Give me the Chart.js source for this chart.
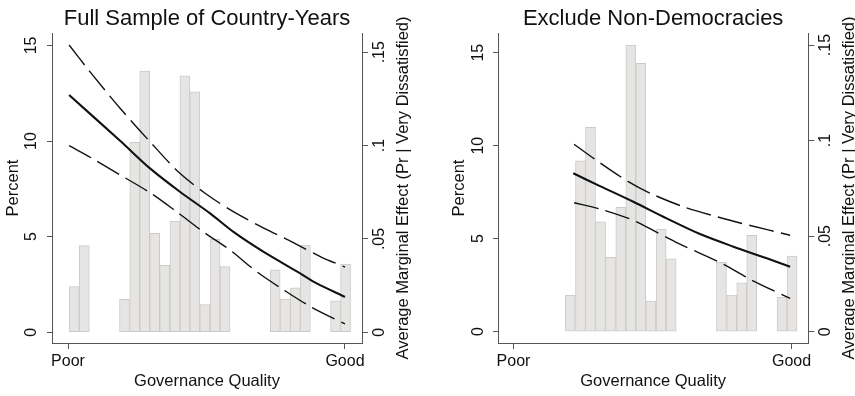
<!DOCTYPE html>
<html>
<head>
<meta charset="utf-8">
<script src="https://cdn.jsdelivr.net/npm/chart.js@4.4.0/dist/chart.umd.min.js"></script>
<style>
  body { margin: 0; background: #fff; }
  #wrap { display: flex; width: 855px; height: 396px; }
  canvas { display: block; }
</style>
</head>
<body>
<div id="wrap">
  <canvas id="fullChart" width="428" height="396"></canvas>
  <canvas id="demChart" width="427" height="396"></canvas>
</div>
<script>
// governance quality scaled 0 (Poor) .. 1 (Good); histogram bins shared by both panels
const binCenters = [0.023, 0.059, 0.095, 0.132, 0.168, 0.204, 0.241, 0.277, 0.313, 0.349,
                    0.386, 0.422, 0.458, 0.494, 0.531, 0.567, 0.603, 0.640, 0.676, 0.712,
                    0.748, 0.785, 0.821, 0.857, 0.894, 0.930, 0.966, 1.002];

// percent of country-years in each bin
const fullPercent = [2.39, 4.53, null, null, null, 1.72, 9.93, 13.66, 5.17, 3.50,
                     5.82, 13.41, 12.58, 1.45, 4.86, 3.43, null, null, null, null,
                     3.26, 1.74, 2.33, 4.56, null, null, 1.64, 3.57];
const demPercent = [null, null, null, null, null, 1.97, 9.18, 10.99, 5.90, 4.00,
                    6.68, 15.41, 14.43, 1.65, 5.52, 3.92, null, null, null, null,
                    3.73, 1.97, 2.63, 5.18, null, null, 1.85, 4.07];

// average marginal effect and 95% bounds, full sample
const fullEffectX = [0.004, 0.188, 0.296, 0.404, 0.513, 0.600, 0.705, 0.838, 0.898, 1.0];
const fullEffect  = [0.1271, 0.1026, 0.0878, 0.0753, 0.0637, 0.0535, 0.0432, 0.0316, 0.0262, 0.0190];
const fullUpperX  = [0.004, 0.079, 0.188, 0.296, 0.398, 0.495, 0.597, 0.705, 0.808, 0.916, 1.0];
const fullUpper   = [0.1539, 0.1396, 0.1200, 0.1021, 0.0860, 0.0745, 0.0646, 0.0560, 0.0485, 0.0402, 0.0350];
const fullLowerX  = [0.004, 0.087, 0.188, 0.296, 0.392, 0.488, 0.585, 0.681, 0.783, 0.880, 1.0];
const fullLower   = [0.1000, 0.0932, 0.0843, 0.0748, 0.0646, 0.0539, 0.0441, 0.0325, 0.0223, 0.0134, 0.0045];

// democracies only
const demEffectX = [0.215, 0.311, 0.431, 0.551, 0.671, 0.791, 0.911, 0.995];
const demEffect  = [0.0829, 0.0762, 0.0680, 0.0593, 0.0511, 0.0445, 0.0384, 0.0340];
const demUpperX  = [0.218, 0.293, 0.413, 0.497, 0.611, 0.731, 0.845, 0.995];
const demUpper   = [0.0981, 0.0902, 0.0785, 0.0721, 0.0654, 0.0602, 0.0558, 0.0505];
const demLowerX  = [0.218, 0.311, 0.419, 0.473, 0.593, 0.749, 0.857, 0.995];
const demLower   = [0.0675, 0.0642, 0.0590, 0.0553, 0.0462, 0.0358, 0.0270, 0.0174];

const xTickValues = [0, 1];
const xTickLabels = ['Poor', 'Good'];
const percentTicks = [0, 5, 10, 15];
const effectTicks = [0, 0.05, 0.1, 0.15];
const effectTickLabels = ['0', '.05', '.1', '.15'];

const fontFamily = "'Liberation Sans', Arial, Helvetica, sans-serif";
const axisColor = '#555';
Chart.defaults.font.family = fontFamily;
Chart.defaults.color = '#111';

// right axis title reads bottom-to-top, like the left one
const rightTitle = {
  id: 'rightTitle',
  afterDraw(chart, args, opts) {
    const { ctx, chartArea } = chart;
    ctx.save();
    ctx.translate(opts.x, (chartArea.top + chartArea.bottom) / 2);
    ctx.rotate(-Math.PI / 2);
    ctx.font = '16.5px ' + fontFamily;
    ctx.fillStyle = '#111';
    ctx.textAlign = 'center';
    ctx.textBaseline = 'middle';
    ctx.fillText(opts.text, 0, 0);
    ctx.restore();
  }
};

const toPoints = (xs, ys) => xs.map((x, i) => ({ x: x, y: ys[i] }));

const curve = (xs, ys, dashed) => ({
  type: 'line',
  data: toPoints(xs, ys),
  yAxisID: 'y2',
  order: 1,
  borderColor: '#111',
  borderWidth: dashed ? 1.4 : 2.1,
  borderDash: dashed ? [25, 7.5] : [],
  pointRadius: 0,
  tension: 0.3,
  fill: false
});

function drawPanel(id, p) {
  new Chart(document.getElementById(id), {
    type: 'bar',
    data: {
      datasets: [
        curve(p.upperX, p.upper, true),
        curve(p.lowerX, p.lower, true),
        curve(p.effectX, p.effect, false),
        {
          type: 'bar',
          data: toPoints(binCenters, p.percent),
          yAxisID: 'y',
          order: 2,
          backgroundColor: '#e6e5e4',
          borderColor: '#cbcac9',
          borderWidth: 1,
          borderSkipped: false,
          barPercentage: 1,
          categoryPercentage: 1
        }
      ]
    },
    options: {
      responsive: false,
      animation: false,
      events: [],
      layout: { padding: 0 },
      plugins: {
        legend: { display: false },
        tooltip: { enabled: false },
        title: {
          display: true,
          text: p.title,
          fullSize: false,
          color: '#111',
          font: { size: 22, weight: 'normal' },
          padding: { top: 6, bottom: 0.6 }
        },
        rightTitle: { x: p.rightTitleX, text: 'Average Marginal Effect (Pr | Very Dissatisfied)' }
      },
      scales: {
        x: {
          type: 'linear',
          min: p.xMin,
          max: p.xMax,
          offset: false,
          afterBuildTicks: s => { s.ticks = xTickValues.map(v => ({ value: v })); },
          afterFit: s => { s.height = 53; },
          ticks: {
            callback: (v, i) => xTickLabels[i],
            font: { size: 16 },
            padding: 3,
            maxRotation: 0,
            autoSkip: false
          },
          grid: { drawOnChartArea: false, offset: false, tickLength: 6, color: axisColor },
          border: { color: axisColor },
          title: {
            display: true,
            text: 'Governance Quality',
            font: { size: 16.5 },
            padding: { top: 0, bottom: 4.4 }
          }
        },
        y: {
          position: 'left',
          min: p.yMin,
          max: p.yMax,
          afterBuildTicks: s => { s.ticks = percentTicks.map(v => ({ value: v })); },
          afterFit: s => { s.width = p.leftWidth; },
          ticks: {
            callback: v => String(v),
            font: { size: 16 },
            minRotation: 90,
            maxRotation: 90,
            crossAlign: 'center',
            padding: p.yTickPad,
            autoSkip: false
          },
          grid: { drawOnChartArea: false, tickLength: 5, color: axisColor },
          border: { color: axisColor },
          title: {
            display: true,
            text: 'Percent',
            font: { size: 16.5 },
            padding: { top: p.yTitlePad, bottom: 0 }
          }
        },
        y2: {
          position: 'right',
          min: p.y2Min,
          max: p.y2Max,
          afterBuildTicks: s => { s.ticks = effectTicks.map(v => ({ value: v })); },
          afterFit: s => { s.width = p.rightWidth; },
          ticks: {
            callback: (v, i) => effectTickLabels[i],
            font: { size: 16 },
            minRotation: 90,
            maxRotation: 90,
            crossAlign: 'center',
            padding: p.y2TickPad,
            autoSkip: false
          },
          grid: { drawOnChartArea: false, tickLength: 6, color: axisColor },
          border: { color: axisColor }
        }
      }
    },
    plugins: [rightTitle]
  });
}

drawPanel('fullChart', {
  title: 'Full Sample of Country-Years',
  percent: fullPercent,
  effectX: fullEffectX, effect: fullEffect,
  upperX: fullUpperX, upper: fullUpper,
  lowerX: fullLowerX, lower: fullLower,
  xMin: -0.0578, xMax: 1.0614,
  yMin: -0.56, yMax: 15.65,
  y2Min: -0.0057, y2Max: 0.1603,
  leftWidth: 52, rightWidth: 66,
  yTickPad: 7, y2TickPad: 0, yTitlePad: 3.4,
  rightTitleX: 403.3
});

drawPanel('demChart', {
  title: 'Exclude Non-Democracies',
  percent: demPercent,
  effectX: demEffectX, effect: demEffect,
  upperX: demUpperX, upper: demUpper,
  lowerX: demLowerX, lower: demLower,
  xMin: -0.0558, xMax: 1.0604,
  yMin: -0.61, yMax: 16.06,
  y2Min: -0.0059, y2Max: 0.1563,
  leftWidth: 70, rightWidth: 46.7,
  yTickPad: 6, y2TickPad: 0.6, yTitlePad: 21.8,
  rightTitleX: 421.7
});
</script>
</body>
</html>
